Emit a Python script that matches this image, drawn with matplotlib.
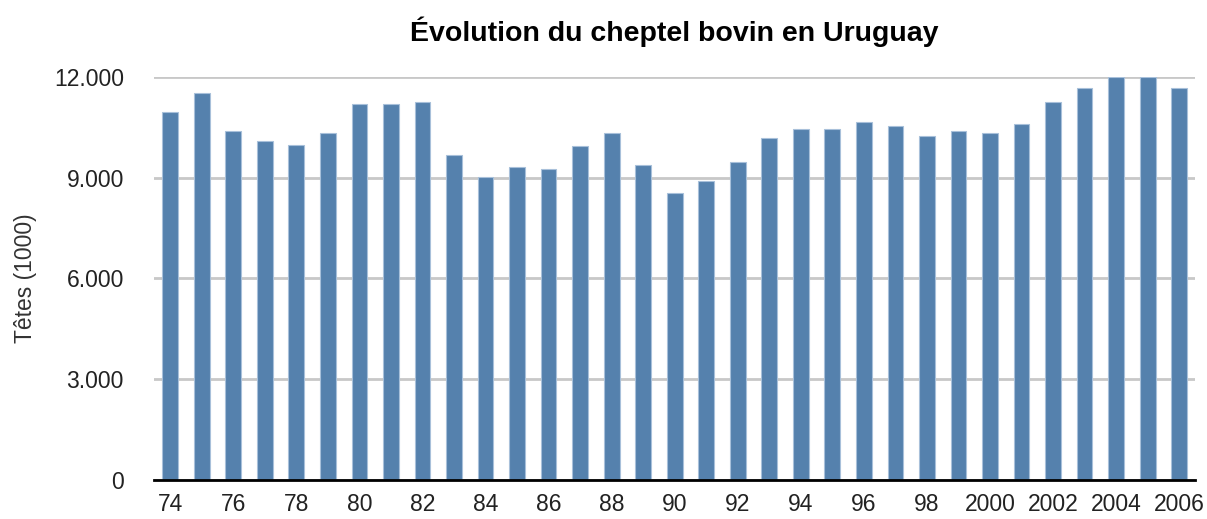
import matplotlib.pyplot as plt
from matplotlib.ticker import FuncFormatter

plt.rcParams['font.family'] = ['Liberation Sans', 'DejaVu Sans']

# cattle herd, thousands of heads
years = ['74', '75', '76', '77', '78', '79', '80', '81', '82', '83', '84',
         '85', '86', '87', '88', '89', '90', '91', '92', '93', '94', '95',
         '96', '97', '98', '99', '2000', '2001', '2002', '2003', '2004', '2005', '2006']
heads = [10950, 11530, 10390, 10100, 9960, 10320, 11180, 11180, 11240, 9670, 9030,
         9320, 9250, 9950, 10320, 9380, 8530, 8890, 9460, 10170, 10450, 10450,
         10670, 10530, 10240, 10390, 10320, 10610, 11240, 11660, 11980, 11980, 11660]
y_ticks = [0, 3000, 6000, 9000, 12000]

fig = plt.figure(figsize=(12.07, 5.19), dpi=100)
ax = fig.add_axes([0.128, 0.075, 0.862, 0.777])

x = list(range(len(years)))
ax.bar(x, heads, width=0.5, color='#5581AD', edgecolor='#A8C0DA', linewidth=0.8, zorder=2)

ax.set_xlim(-0.5, len(years) - 0.5)
ax.set_ylim(0, 12000)
ax.set_yticks(y_ticks)
ax.yaxis.set_major_formatter(FuncFormatter(lambda v, p: f"{int(v):,}".replace(",", ".")))
ax.set_xticks(x[::2])
ax.set_xticklabels(years[::2])

ax.grid(axis='y', color='#C8C8C8', linewidth=2, zorder=1)
for s in ['left', 'right', 'top']:
    ax.spines[s].set_visible(False)
ax.spines['bottom'].set_color('black')
ax.spines['bottom'].set_linewidth(2)
ax.spines['bottom'].set_zorder(3)

ax.tick_params(axis='y', length=0, pad=22, labelsize=16.5, labelcolor='#222222')
ax.tick_params(axis='x', length=0, pad=9, labelsize=16.5, labelcolor='#222222')

ax.set_ylabel("Têtes (1000)", fontsize=16.5, color='#333333', labelpad=12)
ax.set_title("Évolution du cheptel bovin en Uruguay", fontsize=20.5, fontweight='bold', pad=26)

plt.savefig("out.png", dpi=100)
